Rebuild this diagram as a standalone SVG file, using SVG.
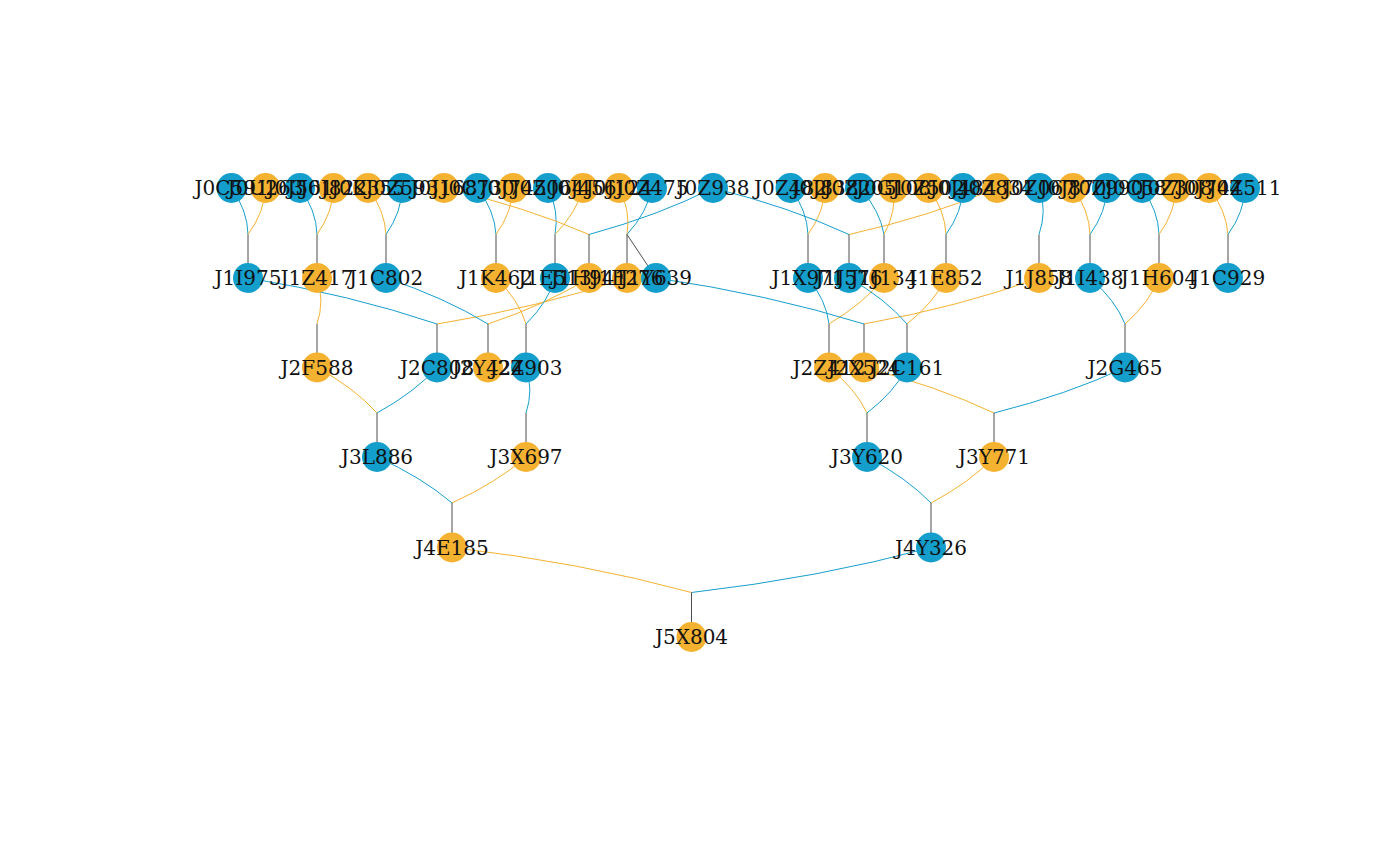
<svg xmlns="http://www.w3.org/2000/svg" width="1400" height="866" viewBox="0 0 1400 866">
<style>
.e{fill:none;stroke-width:1}
.eb{stroke:#179fcd}
.eo{stroke:#f5b232}
.eg{stroke:#4d4d4d}
.nb{fill:#139ecc}
.no{fill:#f5b231}
text{font-family:"DejaVu Serif","Liberation Serif",serif;font-size:20px;fill:#111;text-anchor:middle}
</style>
<rect width="1400" height="866" fill="#ffffff"/>
<g id="connectors">
<path class="e eb" d="M231.5 188 Q247.65 210.7 248 234.5"/>
<path class="e eo" d="M265.5 188 Q264.65 211.83 248 234.5"/>
<path class="e eb" d="M300 188 Q316.4 210.69 317 234.5"/>
<path class="e eo" d="M333.5 188 Q333.15 211.8 317 234.5"/>
<path class="e eo" d="M368 188 Q384.9 210.65 386 234.5"/>
<path class="e eb" d="M402 188 Q401.9 211.78 386 234.5"/>
<path class="e eb" d="M477.5 188 Q494.65 210.64 496 234.5"/>
<path class="e eo" d="M513 188 Q512.4 211.81 496 234.5"/>
<path class="e eb" d="M548 188 Q559.4 211.02 555 234.5"/>
<path class="e eo" d="M583 188 Q576.9 212.18 555 234.5"/>
<path class="e eo" d="M444 188 Q524.4 206.44 589 234.5"/>
<path class="e eb" d="M713 188 Q658.9 215.37 589 234.5"/>
<path class="e eo" d="M619 188 Q630.9 210.98 627 234.5"/>
<path class="e eb" d="M652 188 Q647.4 212.08 627 234.5"/>
<path class="e eb" d="M790.5 188 Q807.15 210.67 808 234.5"/>
<path class="e eo" d="M825 188 Q824.4 211.81 808 234.5"/>
<path class="e eb" d="M713 188 Q788.9 206.73 849 234.5"/>
<path class="e eo" d="M997 188 Q930.9 216.16 849 234.5"/>
<path class="e eb" d="M860 188 Q879.9 210.45 884 234.5"/>
<path class="e eo" d="M893.5 188 Q896.65 211.57 884 234.5"/>
<path class="e eo" d="M928.5 188 Q945.15 210.67 946 234.5"/>
<path class="e eb" d="M963 188 Q962.4 211.81 946 234.5"/>
<path class="e eb" d="M1039.5 188 Q1047.15 211.27 1039 234.5"/>
<path class="e eo" d="M1073 188 Q1089.4 210.69 1090 234.5"/>
<path class="e eb" d="M1107 188 Q1106.4 211.81 1090 234.5"/>
<path class="e eb" d="M1142 188 Q1158.4 210.69 1159 234.5"/>
<path class="e eo" d="M1176 188 Q1175.4 211.81 1159 234.5"/>
<path class="e eo" d="M1209 188 Q1226.4 210.62 1228 234.5"/>
<path class="e eb" d="M1245 188 Q1244.4 211.81 1228 234.5"/>
<path class="e eg" d="M248 234.5V278M317 234.5V278M386 234.5V278M496 234.5V278M555 234.5V278M589 234.5V278M627 234.5V278M627 234.5L656 278M808 234.5V278M849 234.5V278M884 234.5V278M946 234.5V278M1039 234.5V278M1090 234.5V278M1159 234.5V278M1228 234.5V278"/>
<path class="e eo" d="M317 278 Q324.8 301 317 324"/>
<path class="e eb" d="M248 278 Q350.3 294.7 437 324"/>
<path class="e eo" d="M627 278 Q539.8 307.3 437 324"/>
<path class="e eb" d="M386 278 Q444.8 297.6 488 324"/>
<path class="e eo" d="M589 278 Q546.3 304.4 488 324"/>
<path class="e eo" d="M496 278 Q518.8 300 526 324"/>
<path class="e eb" d="M555 278 Q548.3 301.96 526 324"/>
<path class="e eb" d="M808 278 Q826.3 300.3 829 324"/>
<path class="e eo" d="M884 278 Q864.3 302.8 829 324"/>
<path class="e eb" d="M656 278 Q767.8 294.1 864 324"/>
<path class="e eo" d="M1039 278 Q959.3 306.8 864 324"/>
<path class="e eb" d="M849 278 Q885.8 299.1 907 324"/>
<path class="e eo" d="M946 278 Q934.3 302.3 907 324"/>
<path class="e eb" d="M1090 278 Q1115.3 299.8 1125 324"/>
<path class="e eo" d="M1159 278 Q1149.8 302.1 1125 324"/>
<path class="e eg" d="M317 324V367.5M437 324V367.5M488 324V367.5M526 324V367.5M829 324V367.5M864 324V367.5M907 324V367.5M1125 324V367.5"/>
<path class="e eo" d="M317 367.5 Q354.7 388.26 377 413"/>
<path class="e eb" d="M437 367.5 Q414.7 392.24 377 413"/>
<path class="e eb" d="M526 367.5 Q533.7 390.25 526 413"/>
<path class="e eo" d="M829 367.5 Q855.7 388.99 867 413"/>
<path class="e eb" d="M907 367.5 Q894.7 391.58 867 413"/>
<path class="e eo" d="M864 367.5 Q936.7 385.9 994 413"/>
<path class="e eb" d="M1125 367.5 Q1067.2 394.6 994 413"/>
<path class="e eg" d="M377 413V457M526 413V457M867 413V457M994 413V457"/>
<path class="e eb" d="M377 457 Q422.3 477.5 452 503"/>
<path class="e eo" d="M526 457 Q496.8 482.5 452 503"/>
<path class="e eb" d="M867 457 Q906.8 477.9 931 503"/>
<path class="e eo" d="M994 457 Q970.3 482.1 931 503"/>
<path class="e eg" d="M452 503V547.5M931 503V547.5"/>
<path class="e eo" d="M452 547.5 Q579.4 562.05 691.5 592.5"/>
<path class="e eb" d="M931 547.5 Q818.9 577.95 691.5 592.5"/>
<path class="e eg" d="M691.5 592.5V637"/>
</g>
<g id="nodes">
<g id="J0C591"><circle class="nb" cx="231.5" cy="188" r="15"/></g>
<g id="J0U263"><circle class="no" cx="265.5" cy="188" r="15"/></g>
<g id="J0J561"><circle class="nb" cx="300" cy="188" r="15"/></g>
<g id="J0J822"><circle class="no" cx="333.5" cy="188" r="15"/></g>
<g id="J0K355"><circle class="no" cx="368" cy="188" r="15"/></g>
<g id="J0Z593"><circle class="nb" cx="402" cy="188" r="15"/></g>
<g id="J0J168"><circle class="no" cx="444" cy="188" r="15"/></g>
<g id="J0C730"><circle class="nb" cx="477.5" cy="188" r="15"/></g>
<g id="J0J745"><circle class="no" cx="513" cy="188" r="15"/></g>
<g id="J0Z064"><circle class="nb" cx="548" cy="188" r="15"/></g>
<g id="J0J456"><circle class="no" cx="583" cy="188" r="15"/></g>
<g id="J0J124"><circle class="no" cx="619" cy="188" r="15"/></g>
<g id="J0Z475"><circle class="nb" cx="652" cy="188" r="15"/></g>
<g id="J0Z938"><circle class="nb" cx="713" cy="188" r="15"/></g>
<g id="J0Z482"><circle class="nb" cx="790.5" cy="188" r="15"/></g>
<g id="J0J838"><circle class="no" cx="825" cy="188" r="15"/></g>
<g id="J0Z205"><circle class="nb" cx="860" cy="188" r="15"/></g>
<g id="J0G108"><circle class="no" cx="893.5" cy="188" r="15"/></g>
<g id="J0Z502"><circle class="no" cx="928.5" cy="188" r="15"/></g>
<g id="J0J484"><circle class="nb" cx="963" cy="188" r="15"/></g>
<g id="J0Z834"><circle class="no" cx="997" cy="188" r="15"/></g>
<g id="J0Z067"><circle class="nb" cx="1039.5" cy="188" r="15"/></g>
<g id="J0J870"><circle class="no" cx="1073" cy="188" r="15"/></g>
<g id="J0Z990"><circle class="nb" cx="1107" cy="188" r="15"/></g>
<g id="J0C587"><circle class="nb" cx="1142" cy="188" r="15"/></g>
<g id="J0Z308"><circle class="no" cx="1176" cy="188" r="15"/></g>
<g id="J0J744"><circle class="no" cx="1209" cy="188" r="15"/></g>
<g id="J0Z511"><circle class="nb" cx="1245" cy="188" r="15"/></g>
<g id="J1I975"><circle class="nb" cx="248" cy="278" r="15"/></g>
<g id="J1Z417"><circle class="no" cx="317" cy="278" r="15"/></g>
<g id="J1C802"><circle class="nb" cx="386" cy="278" r="15"/></g>
<g id="J1K462"><circle class="no" cx="496" cy="278" r="15"/></g>
<g id="J1E513"><circle class="nb" cx="555" cy="278" r="15"/></g>
<g id="J1H941"><circle class="no" cx="589" cy="278" r="15"/></g>
<g id="J1F276"><circle class="no" cx="627" cy="278" r="15"/></g>
<g id="J1Y639"><circle class="nb" cx="656" cy="278" r="15"/></g>
<g id="J1X971"><circle class="nb" cx="808" cy="278" r="15"/></g>
<g id="J1J576"><circle class="nb" cx="849" cy="278" r="15"/></g>
<g id="J1J134"><circle class="no" cx="884" cy="278" r="15"/></g>
<g id="J1E852"><circle class="no" cx="946" cy="278" r="15"/></g>
<g id="J1J858"><circle class="no" cx="1039" cy="278" r="15"/></g>
<g id="J1I438"><circle class="nb" cx="1090" cy="278" r="15"/></g>
<g id="J1H604"><circle class="no" cx="1159" cy="278" r="15"/></g>
<g id="J1C929"><circle class="nb" cx="1228" cy="278" r="15"/></g>
<g id="J2F588"><circle class="no" cx="317" cy="367.5" r="15"/></g>
<g id="J2C808"><circle class="nb" cx="437" cy="367.5" r="15"/></g>
<g id="J2Y424"><circle class="no" cx="488" cy="367.5" r="15"/></g>
<g id="J2Z903"><circle class="nb" cx="526" cy="367.5" r="15"/></g>
<g id="J2Z412"><circle class="no" cx="829" cy="367.5" r="15"/></g>
<g id="J2X524"><circle class="no" cx="864" cy="367.5" r="15"/></g>
<g id="J2C161"><circle class="nb" cx="907" cy="367.5" r="15"/></g>
<g id="J2G465"><circle class="nb" cx="1125" cy="367.5" r="15"/></g>
<g id="J3L886"><circle class="nb" cx="377" cy="457" r="15"/></g>
<g id="J3X697"><circle class="no" cx="526" cy="457" r="15"/></g>
<g id="J3Y620"><circle class="nb" cx="867" cy="457" r="15"/></g>
<g id="J3Y771"><circle class="no" cx="994" cy="457" r="15"/></g>
<g id="J4E185"><circle class="no" cx="452" cy="547.5" r="15"/></g>
<g id="J4Y326"><circle class="nb" cx="931" cy="547.5" r="15"/></g>
<g id="J5X804"><circle class="no" cx="691.5" cy="637" r="15"/></g>
</g>
<g id="labels">
<text x="231.5" y="195">J0C591</text>
<text x="265.5" y="195">J0U263</text>
<text x="300" y="195">J0J561</text>
<text x="333.5" y="195">J0J822</text>
<text x="368" y="195">J0K355</text>
<text x="402" y="195">J0Z593</text>
<text x="444" y="195">J0J168</text>
<text x="477.5" y="195">J0C730</text>
<text x="513" y="195">J0J745</text>
<text x="548" y="195">J0Z064</text>
<text x="583" y="195">J0J456</text>
<text x="619" y="195">J0J124</text>
<text x="652" y="195">J0Z475</text>
<text x="713" y="195">J0Z938</text>
<text x="790.5" y="195">J0Z482</text>
<text x="825" y="195">J0J838</text>
<text x="860" y="195">J0Z205</text>
<text x="893.5" y="195">J0G108</text>
<text x="928.5" y="195">J0Z502</text>
<text x="963" y="195">J0J484</text>
<text x="997" y="195">J0Z834</text>
<text x="1039.5" y="195">J0Z067</text>
<text x="1073" y="195">J0J870</text>
<text x="1107" y="195">J0Z990</text>
<text x="1142" y="195">J0C587</text>
<text x="1176" y="195">J0Z308</text>
<text x="1209" y="195">J0J744</text>
<text x="1245" y="195">J0Z511</text>
<text x="248" y="285">J1I975</text>
<text x="317" y="285">J1Z417</text>
<text x="386" y="285">J1C802</text>
<text x="496" y="285">J1K462</text>
<text x="555" y="285">J1E513</text>
<text x="589" y="285">J1H941</text>
<text x="627" y="285">J1F276</text>
<text x="656" y="285">J1Y639</text>
<text x="808" y="285">J1X971</text>
<text x="849" y="285">J1J576</text>
<text x="884" y="285">J1J134</text>
<text x="946" y="285">J1E852</text>
<text x="1039" y="285">J1J858</text>
<text x="1090" y="285">J1I438</text>
<text x="1159" y="285">J1H604</text>
<text x="1228" y="285">J1C929</text>
<text x="317" y="374.5">J2F588</text>
<text x="437" y="374.5">J2C808</text>
<text x="488" y="374.5">J2Y424</text>
<text x="526" y="374.5">J2Z903</text>
<text x="829" y="374.5">J2Z412</text>
<text x="864" y="374.5">J2X524</text>
<text x="907" y="374.5">J2C161</text>
<text x="1125" y="374.5">J2G465</text>
<text x="377" y="464">J3L886</text>
<text x="526" y="464">J3X697</text>
<text x="867" y="464">J3Y620</text>
<text x="994" y="464">J3Y771</text>
<text x="452" y="554.5">J4E185</text>
<text x="931" y="554.5">J4Y326</text>
<text x="691.5" y="644">J5X804</text>
</g>
</svg>
